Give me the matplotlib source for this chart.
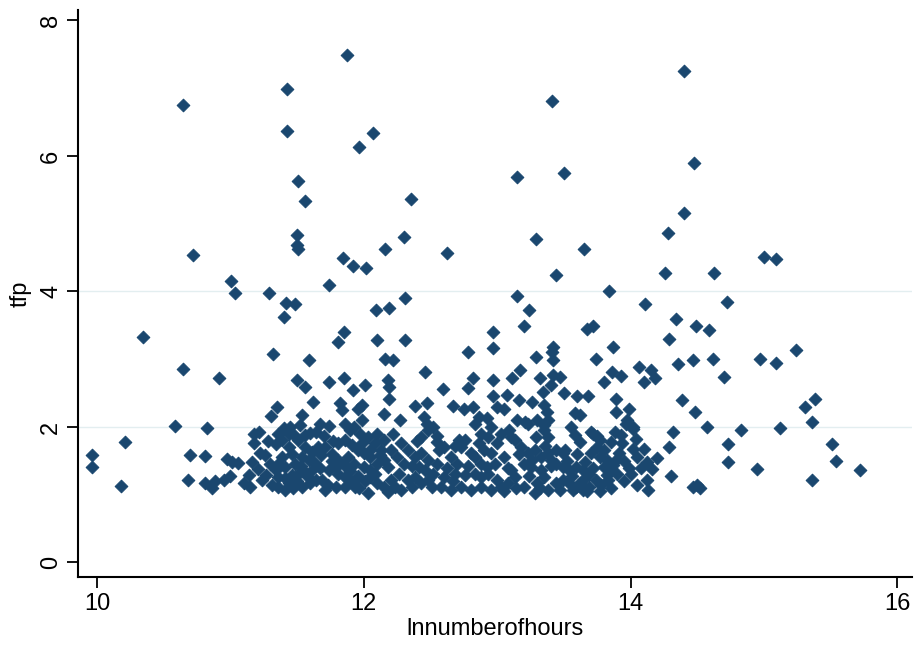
import matplotlib
matplotlib.use('Agg')
import matplotlib.pyplot as plt

# ln(number of hours) vs tfp
hours = [
    # upper scattered points
    11.875, 11.425, 10.645, 11.425, 12.07, 11.965, 11.51, 11.56, 12.35, 11.50,
    11.50, 11.51, 10.72, 11.845, 11.92, 12.02, 12.16, 12.30, 12.625, 11.005,
    11.035, 11.29, 11.74, 12.31,
    14.40, 13.41, 14.475, 13.15, 13.50, 14.40, 14.28, 13.29, 13.65, 13.44,
    14.26, 14.625, 15.0, 15.09, 13.15, 13.84, 14.11, 14.72,
    11.42, 11.485, 11.405, 10.345, 11.32, 10.645, 10.915, 11.35, 11.305, 10.585,
    10.825, 11.215, 10.21,
    # band between 2 and 4
    12.09, 12.19, 11.85, 11.81, 12.10, 12.31, 11.59, 12.16, 12.22, 12.46,
    12.97, 12.97, 12.78, 11.50, 11.56, 11.74, 11.85, 11.92, 12.01, 12.18,
    12.19, 12.59, 12.82, 12.78, 12.97, 11.62, 12.19, 11.82, 11.835, 11.96,
    11.99, 12.385, 12.47, 12.67, 12.75, 12.82, 12.86, 12.92, 12.97, 11.54,
    12.15, 12.27, 12.45, 12.47, 11.67, 11.74, 11.86, 11.90, 11.99, 11.45,
    11.52, 11.60, 12.52, 12.55,
    13.24, 14.34, 14.49, 14.59, 13.20, 13.67, 13.72, 14.29, 13.87, 13.42,
    13.41, 13.29, 13.74, 13.42, 14.355, 14.47, 13.17, 13.11, 13.32, 13.42,
    13.47, 13.40, 13.86, 13.93, 13.80, 14.06, 14.15, 14.10, 14.185, 14.385,
    14.485, 13.07, 13.16, 13.26, 13.34, 13.35, 13.50, 13.60, 13.68, 13.89,
    13.00, 13.05, 13.37, 13.38, 13.35, 13.585, 13.62, 13.89, 13.99, 13.97,
    14.02, 13.21, 13.55, 13.885, 14.32, 14.57, 13.09, 13.70, 13.75,
    14.62, 14.97, 15.09, 15.24, 14.70, 15.385, 15.31, 15.36, 14.83, 15.12,
    # right and left tails
    14.73, 14.73, 15.51, 15.54, 14.95, 15.72, 15.36, 14.52, 14.50,
    9.96, 9.96, 10.18, 10.68, 10.70, 10.81, 10.81, 10.86, 10.885, 10.95,
    11.0, 10.975, 11.01, 11.06,
    # dense cluster, left part
    11.18, 11.18, 11.16, 11.14, 11.10, 11.15, 11.24, 11.27, 11.36, 11.34,
    11.39, 11.44, 11.56, 11.51, 11.44, 11.46, 11.39, 11.36, 11.41, 11.485,
    11.535, 11.34, 11.36, 11.41, 11.46, 11.51, 11.56, 11.36, 11.41, 11.47,
    11.535, 11.60, 11.64, 11.61, 11.67, 11.74, 11.79, 11.81, 11.86, 11.91,
    11.935, 11.86, 11.79, 11.71, 11.56, 11.66, 11.71, 11.61, 11.68, 11.76,
    11.79, 11.59, 11.925, 11.97, 12.03, 11.81, 11.86, 11.91, 11.96, 12.0,
    12.05, 11.81, 11.85, 11.925, 12.0, 12.05, 12.10, 12.15, 12.18, 12.10,
    12.15, 12.08, 12.13, 12.05, 12.05, 12.10, 12.15, 11.965, 12.03, 11.26,
    11.22, 11.28, 11.30, 11.21, 11.31, 11.40, 11.48, 11.44, 11.50, 11.53,
    11.58, 11.63, 11.69, 11.73, 11.76, 11.70, 11.77, 11.64, 11.90, 11.96,
    12.01, 11.88, 11.99, 12.08, 12.12, 12.20, 12.20, 12.22, 12.23, 12.18,
    # dense cluster, middle part
    12.48, 12.43, 12.28, 12.33, 12.25, 12.30, 12.26, 12.33, 12.28, 12.385,
    12.43, 12.48, 12.41, 12.46, 12.385, 12.43, 12.48, 12.51, 12.56, 12.60,
    12.65, 12.58, 12.65, 12.73, 12.80, 12.875, 12.60, 12.68, 12.76, 12.83,
    12.875, 12.71, 12.73, 12.76, 12.83, 12.875, 12.86, 12.90, 12.83, 12.875,
    12.92, 12.95, 13.03, 13.0, 12.95, 12.98, 12.93, 13.0, 13.03, 13.08,
    12.95, 13.10, 13.13, 13.15, 13.23, 13.30, 13.35, 13.38, 13.18, 13.23,
    13.28, 13.33, 13.38, 13.20, 13.25, 13.33, 13.35, 13.30, 13.38, 13.28,
    13.20, 13.10, 13.13,
    12.36, 12.36, 12.40, 12.52, 12.55, 12.62, 12.55, 12.67, 12.70, 12.78,
    12.80, 12.68, 12.93, 13.05, 13.08, 13.05, 13.14, 13.16, 13.24, 13.26,
    13.29, 13.36, 13.40, 13.40, 13.32,
    # dense cluster, right part
    13.44, 13.49, 13.51, 13.44, 13.49, 13.54, 13.59, 13.64, 13.69, 13.64,
    13.69, 13.64, 13.59, 13.54, 13.49, 13.44, 13.47, 13.72, 13.77, 13.75,
    13.80, 13.77, 13.82, 13.80, 13.85, 13.82, 13.90, 13.85, 13.935, 13.91,
    13.89, 13.965, 14.02, 14.02, 14.10, 14.05, 14.12, 14.20, 14.29, 13.99,
    14.12, 14.05, 14.13, 13.85, 13.77, 13.67, 14.30, 14.47, 13.57,
    13.52, 13.56, 13.60, 13.62, 13.66, 13.72, 13.74, 13.70, 13.78, 13.83,
    13.87, 13.95, 13.95, 14.00, 14.04, 14.08, 14.16, 13.62, 13.58, 13.93,
]
tfp = [
    7.49, 6.99, 6.75, 6.37, 6.34, 6.13, 5.63, 5.34, 5.36, 4.84,
    4.68, 4.62, 4.54, 4.49, 4.37, 4.34, 4.63, 4.81, 4.57, 4.16,
    3.98, 3.98, 4.10, 3.91,
    7.25, 6.81, 5.89, 5.69, 5.75, 5.16, 4.86, 4.78, 4.63, 4.25,
    4.27, 4.27, 4.51, 4.48, 3.93, 4.01, 3.81, 3.84,
    3.83, 3.81, 3.63, 3.33, 3.07, 2.86, 2.72, 2.30, 2.16, 2.01,
    1.98, 1.92, 1.78,
    3.73, 3.75, 3.40, 3.25, 3.28, 3.28, 2.99, 3.01, 2.99, 2.81,
    3.40, 3.16, 3.11, 2.69, 2.59, 2.66, 2.72, 2.54, 2.62, 2.70,
    2.59, 2.56, 2.72, 2.57, 2.69, 2.37, 2.42, 2.35, 2.25, 2.27,
    2.32, 2.31, 2.35, 2.31, 2.27, 2.30, 2.15, 2.13, 2.45, 2.18,
    2.19, 2.10, 2.15, 2.05, 2.05, 2.01, 2.05, 1.96, 2.10, 2.00,
    2.03, 1.91, 2.00, 1.86,
    3.72, 3.60, 3.49, 3.43, 3.49, 3.45, 3.49, 3.30, 3.18, 3.18,
    3.11, 3.04, 3.01, 2.99, 2.93, 2.99, 2.84, 2.72, 2.72, 2.76,
    2.74, 2.62, 2.81, 2.75, 2.67, 2.89, 2.84, 2.67, 2.72, 2.40,
    2.22, 2.47, 2.40, 2.37, 2.52, 2.32, 2.50, 2.46, 2.46, 2.42,
    2.30, 2.27, 2.22, 2.10, 2.03, 2.20, 2.18, 2.22, 2.27, 2.10,
    2.00, 2.08, 2.00, 1.93, 1.93, 2.00, 1.96, 1.93, 1.86,
    3.01, 3.01, 2.95, 3.13, 2.74, 2.42, 2.30, 2.07, 1.95, 1.98,
    1.75, 1.49, 1.75, 1.50, 1.38, 1.37, 1.22, 1.10, 1.14,
    1.59, 1.41, 1.13, 1.22, 1.59, 1.57, 1.18, 1.10, 1.21, 1.22,
    1.28, 1.53, 1.49, 1.47,
    1.90, 1.76, 1.48, 1.29, 1.17, 1.12, 1.22, 1.29, 1.90, 1.75,
    1.81, 1.90, 1.88, 1.81, 1.70, 1.60, 1.55, 1.46, 1.41, 1.46,
    1.55, 1.36, 1.26, 1.24, 1.29, 1.31, 1.34, 1.12, 1.07, 1.10,
    1.12, 1.17, 1.22, 1.36, 1.39, 1.36, 1.41, 1.31, 1.26, 1.19,
    1.12, 1.12, 1.12, 1.07, 1.70, 1.70, 1.70, 1.63, 1.58, 1.60,
    1.51, 1.51, 2.00, 1.90, 1.85, 1.76, 1.81, 1.74, 1.66, 1.61,
    1.56, 1.51, 1.44, 1.46, 1.41, 1.36, 1.46, 1.51, 1.41, 1.90,
    1.81, 1.76, 1.66, 1.66, 1.26, 1.17, 1.12, 1.10, 1.02, 1.59,
    1.62, 1.80, 1.45, 1.38, 1.15, 1.98, 1.88, 1.18, 1.20, 1.42,
    1.26, 1.48, 1.22, 1.15, 1.50, 1.86, 1.80, 1.92, 1.35, 1.28,
    1.20, 1.56, 1.76, 1.30, 1.58, 1.22, 1.66, 1.90, 1.12, 1.04,
    1.96, 1.85, 1.76, 1.66, 1.56, 1.46, 1.31, 1.22, 1.07, 1.56,
    1.61, 1.51, 1.41, 1.36, 1.26, 1.17, 1.22, 1.12, 1.66, 1.70,
    1.56, 1.12, 1.07, 1.12, 1.07, 1.12, 1.26, 1.31, 1.29, 1.31,
    1.26, 1.81, 1.70, 1.81, 2.05, 1.90, 1.76, 1.66, 1.56, 1.46,
    1.41, 2.00, 1.90, 1.76, 1.61, 1.46, 1.31, 1.22, 1.12, 1.17,
    1.07, 1.85, 1.81, 2.10, 2.05, 2.10, 1.96, 1.85, 1.70, 1.61,
    1.66, 1.56, 1.61, 1.46, 1.41, 1.36, 1.26, 1.17, 1.07, 1.02,
    1.12, 1.36, 1.26,
    1.12, 1.42, 1.80, 1.30, 1.45, 1.40, 1.78, 1.20, 1.45, 1.42,
    1.62, 1.72, 1.85, 1.55, 1.40, 1.05, 1.10, 1.60, 1.28, 1.52,
    1.85, 1.72, 1.42, 1.52, 1.10,
    1.66, 1.61, 1.66, 1.46, 1.41, 1.36, 1.41, 1.36, 1.31, 1.22,
    1.12, 1.07, 1.12, 1.17, 1.22, 1.17, 1.07, 1.90, 1.81, 1.70,
    1.66, 1.56, 1.51, 1.41, 1.36, 1.29, 1.31, 1.78, 1.76, 1.61,
    1.51, 2.05, 1.97, 1.68, 1.68, 1.56, 1.49, 1.54, 1.70, 1.39,
    1.22, 1.15, 1.07, 1.10, 1.05, 1.05, 1.27, 1.12, 1.07,
    1.50, 1.28, 1.60, 1.18, 1.48, 1.40, 1.22, 1.62, 1.14, 1.22,
    1.44, 1.20, 1.50, 1.30, 1.82, 1.40, 1.38, 1.78, 1.88, 1.88,
]

navy = '#1a476f'
plt.rcParams['font.family'] = ['Liberation Sans Narrow', 'Liberation Sans', 'DejaVu Sans']

fig = plt.figure(figsize=(9.16, 6.48), dpi=100)
ax = fig.add_axes([0.0852, 0.1096, 0.9105, 0.875])

# faint grid lines like the Stata scheme
for g in [2, 4]:
    ax.axhline(g, color='#e3eef0', lw=1.0, zorder=0)

ax.scatter(hours, tfp, marker='D', s=42, color=navy, edgecolors=navy,
           linewidths=0.7, zorder=3)

ax.set_xlim(9.8575, 16.11)
ax.set_ylim(-0.214, 8.155)
ax.set_xticks([10, 12, 14, 16])
ax.set_yticks([0, 2, 4, 6, 8])

for side in ['top', 'right']:
    ax.spines[side].set_visible(False)
for side in ['left', 'bottom']:
    ax.spines[side].set_linewidth(1.5)

ax.tick_params(axis='both', direction='out', length=8, width=1.3, labelsize=17)
ax.tick_params(axis='y', labelrotation=90)
for lab in ax.get_yticklabels():
    lab.set_va('center')

ax.set_xlabel('lnnumberofhours', fontsize=17, labelpad=2)
ax.set_ylabel('tfp', fontsize=17, labelpad=6)

fig.savefig('out.png', dpi=100)
